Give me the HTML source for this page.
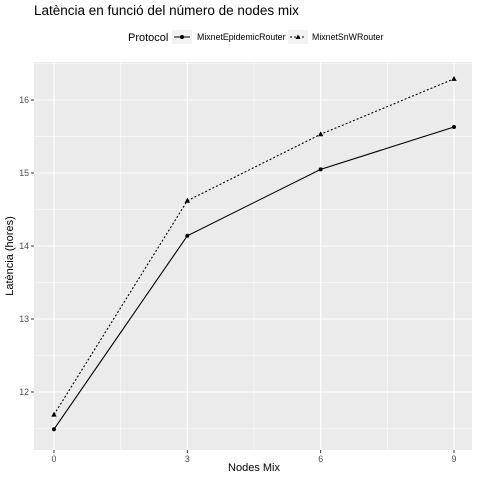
<!DOCTYPE html>
<html><head><meta charset="utf-8"><style>
body{margin:0;background:#fff;font-family:"Liberation Sans",sans-serif}
</style></head><body>
<svg width="480" height="480" xmlns="http://www.w3.org/2000/svg" font-family="Liberation Sans, sans-serif">
<text x="34" y="15" font-size="13.5" fill="#000">Latència en funció del número de nodes mix</text>
<g>
<text x="128" y="41" font-size="11" fill="#000">Protocol</text>
<rect x="172" y="30" width="20" height="14" fill="#f2f2f2"/>
<line x1="174" y1="37" x2="190" y2="37" stroke="#000" stroke-width="1"/>
<circle cx="182" cy="37" r="2" fill="#000"/>
<text x="197" y="40" font-size="8.8" fill="#000">MixnetEpidemicRouter</text>
<rect x="288" y="30" width="20" height="14" fill="#f2f2f2"/>
<line x1="290" y1="37" x2="306" y2="37" stroke="#000" stroke-width="1" stroke-dasharray="2,2"/>
<path d="M298,34.5 L300.5,39 L295.5,39 Z" fill="#000"/>
<text x="312" y="40" font-size="8.8" fill="#000">MixnetSnWRouter</text>
</g>
<g id="plot"></g>
<text x="254" y="471" font-size="11" text-anchor="middle" fill="#000">Nodes Mix</text>
<text transform="translate(13,256) rotate(-90)" font-size="11" text-anchor="middle" fill="#000">Latència (hores)</text>
</svg>
<script>
const xValues=[0,3,6,9];
const epidemic=[11.49,14.14,15.05,15.63];
const snw=[11.69,14.62,15.53,16.29];
const xTicks=[0,3,6,9];
const yTicks=[12,13,14,15,16];
const L=34,R=472,T=62,B=450;
const sx=v=>54+(v-0)*(454-54)/9;
const sy=v=>100+(16-v)*73;
const ns="http://www.w3.org/2000/svg";
const g=document.getElementById('plot');
function mk(t,a){const e=document.createElementNS(ns,t);for(const k in a)e.setAttribute(k,a[k]);g.appendChild(e);return e;}
const bg=mk('rect',{x:L,y:T,width:R-L,height:B-T,fill:'#ebebeb'});


for(let i=0;i<yTicks.length;i++){const m=yTicks[i]-0.5;mk('line',{x1:L,x2:R,y1:sy(m),y2:sy(m),stroke:'#fff','stroke-width':0.5});}
mk('line',{x1:L,x2:R,y1:sy(16.5),y2:sy(16.5),stroke:'#fff','stroke-width':0.5});
for(let i=0;i<xTicks.length-1;i++){const m=(xTicks[i]+xTicks[i+1])/2;mk('line',{y1:T,y2:B,x1:sx(m),x2:sx(m),stroke:'#fff','stroke-width':0.5});}
yTicks.forEach(v=>{
mk('line',{x1:L,x2:R,y1:sy(v),y2:sy(v),stroke:'#fff','stroke-width':1.1});
mk('line',{x1:L-3,x2:L,y1:sy(v),y2:sy(v),stroke:'#333','stroke-width':1});
const t=mk('text',{x:L-5,y:sy(v)+3,'font-size':8.8,'text-anchor':'end',fill:'#4d4d4d'});t.textContent=v;


});
xTicks.forEach(v=>{
mk('line',{y1:T,y2:B,x1:sx(v),x2:sx(v),stroke:'#fff','stroke-width':1.1});
mk('line',{y1:B,y2:B+3,x1:sx(v),x2:sx(v),stroke:'#333','stroke-width':1});
const t=mk('text',{x:sx(v),y:B+12,'font-size':8.8,'text-anchor':'middle',fill:'#4d4d4d'});t.textContent=v;


});
function series(vals,dash,name,tri){
const p=mk('polyline',{points:xValues.map((x,i)=>sx(x)+','+sy(vals[i])).join(' '),fill:'none',stroke:'#000','stroke-width':1.1,'stroke-dasharray':dash});


xValues.forEach((x,i)=>{const cx=sx(x),cy=sy(vals[i]);let e;
if(tri)e=mk('path',{d:`M${cx},${cy-3} L${cx+2.7},${cy+2} L${cx-2.7},${cy+2} Z`,fill:'#000'});
else e=mk('circle',{cx:cx,cy:cy,r:2,fill:'#000'});

});
}
series(epidemic,'none','epidemic',false);
series(snw,'2,2','snw',true);
</script>
</body></html>
